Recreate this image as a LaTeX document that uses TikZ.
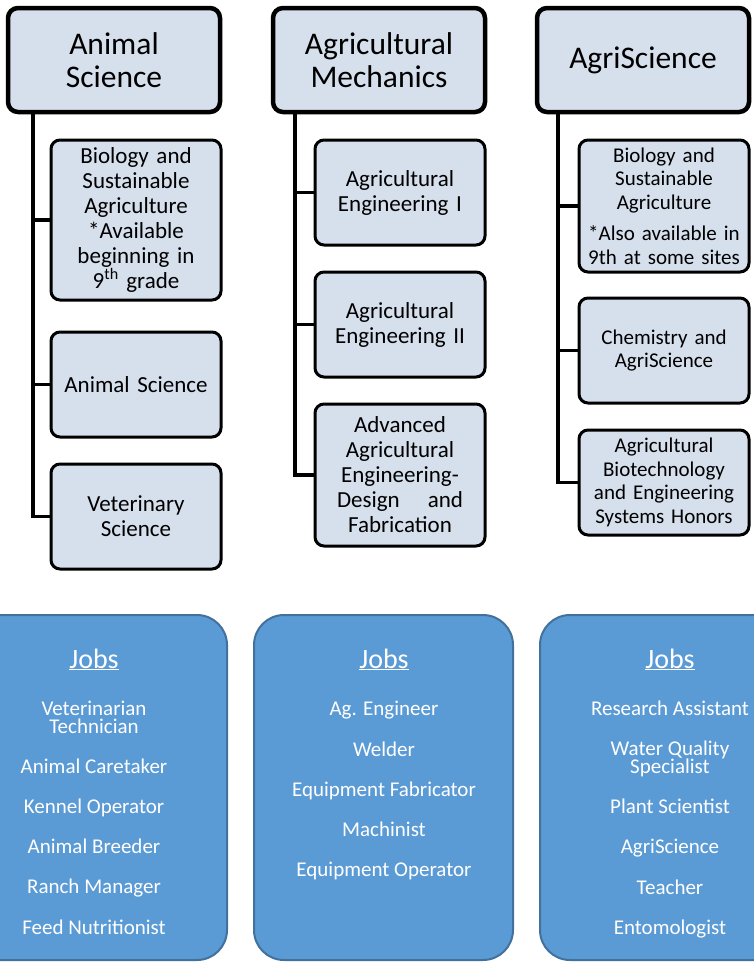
\documentclass[tikz,border=0pt]{standalone}
\usepackage{fontspec}
\setmainfont{Carlito}
\usetikzlibrary{positioning}

\definecolor{boxfill}{RGB}{214,223,236}
\definecolor{jobfill}{RGB}{91,155,213}
\definecolor{jobline}{RGB}{65,113,156}

\tikzset{
  track/.style={draw, line width=4.5pt, rounded corners=10pt, fill=boxfill, minimum width=212pt, minimum height=104pt, align=center, outer sep=0pt, font=\fontsize{31.5}{33}\selectfont},
  course/.style={draw, line width=3pt, rounded corners=9pt, fill=boxfill, minimum width=170pt, text width=162pt, inner sep=0pt, align=center, outer sep=0pt, font=\fontsize{23}{25}\selectfont},
  course3/.style={course, font=\fontsize{21}{23.5}\selectfont},
  link/.style={line width=3.5pt},
  jobbox/.style={draw=jobline, line width=2pt, fill=jobfill, rounded corners=30pt, minimum height=345pt, outer sep=0pt},
  jobhead/.style={text=white, inner sep=0pt, font=\fontsize{28}{30}\selectfont},
  joblist/.style={text=white, align=center, inner sep=0pt, font=\fontsize{21}{18}\selectfont},
}

\begin{document}
\begin{tikzpicture}[x=1pt,y=-1pt]
\path[use as bounding box, clip] (0,0) rectangle (754,962);

% tracks
\node[track](as) at (114,60) {Animal\\Science};
\node[track, right=53pt of as](ms) {Agricultural\\Mechanics};
\node[track, right=52pt of ms](sci) {AgriScience};

% courses
\node[course, minimum height=160pt, below right=28pt and 43pt of as.south west](bio1) {Biology and\\Sustainable\\Agriculture\\{}*Available\\beginning in\\9\textsuperscript{th} grade};
\node[course, minimum height=105pt, below=32pt of bio1](anim) {Animal Science};
\node[course, minimum height=105pt, below=27pt of anim](vet) {Veterinary\\Science};

\node[course, minimum height=105pt, below right=28pt and 42pt of ms.south west](eng1) {Agricultural\\Engineering I};
\node[course, minimum height=105pt, below=27pt of eng1](eng2) {Agricultural\\Engineering II};
\node[course, minimum height=142pt, below=27pt of eng2](adv) {Advanced\\Agricultural\\Engineering-\\\makebox[126pt]{Design\hfill and}\\Fabrication};

\node[course3, minimum height=132pt, below right=28pt and 42pt of sci.south west](bio3) {Biology and\\Sustainable\\Agriculture\\[8pt]*Also available in\\9th at some sites};
\node[course3, minimum height=105pt, below=26pt of bio3](chem) {Chemistry and\\AgriScience};
\node[course3, minimum height=105pt, below=27pt of chem](biotech) {Agricultural\\Biotechnology\\and Engineering\\Systems Honors};

% links
\coordinate (asl) at ([xshift=25pt]as.south west);
\coordinate (msl) at ([xshift=22pt]ms.south west);
\coordinate (scil) at ([xshift=21pt]sci.south west);
\draw[link] (asl) |- (vet.west);
\draw[link] (asl |- bio1.west) -- (bio1.west);
\draw[link] (asl |- anim.west) -- (anim.west);
\draw[link] (msl) |- (adv.west);
\draw[link] (msl |- eng1.west) -- (eng1.west);
\draw[link] (msl |- eng2.west) -- (eng2.west);
\draw[link] (scil) |- (biotech.west);
\draw[link] (scil |- bio3.west) -- (bio3.west);
\draw[link] (scil |- chem.west) -- (chem.west);

% jobs
\node[jobbox, minimum width=262pt](jb1) at (96,787.5) {};
\node[jobbox, minimum width=259pt](jb2) at (383.5,787.5) {};
\node[jobbox, minimum width=260pt](jb3) at (670,787.5) {};
\node[jobhead, anchor=base](jh1) at (94,668) {\underline{Jobs}};
\node[jobhead, anchor=base](jh2) at (384,668) {\underline{Jobs}};
\node[jobhead, anchor=base](jh3) at (670,668) {\underline{Jobs}};
\node[joblist, anchor=north](jl1) at (94,701) {Veterinarian\\Technician\\[22pt]Animal Caretaker\\[22pt]Kennel Operator\\[22pt]Animal Breeder\\[22pt]Ranch Manager\\[22pt]Feed Nutritionist};
\node[joblist, anchor=north](jl2) at (384,701) {Ag. Engineer\\[22pt]Welder\\[22pt]Equipment Fabricator\\[22pt]Machinist\\[22pt]Equipment Operator};
\node[joblist, anchor=north](jl3) at (670,701) {Research Assistant\\[22pt]Water Quality\\Specialist\\[22pt]Plant Scientist\\[22pt]AgriScience\\[22pt]Teacher\\[22pt]Entomologist};
\end{tikzpicture}
\end{document}
